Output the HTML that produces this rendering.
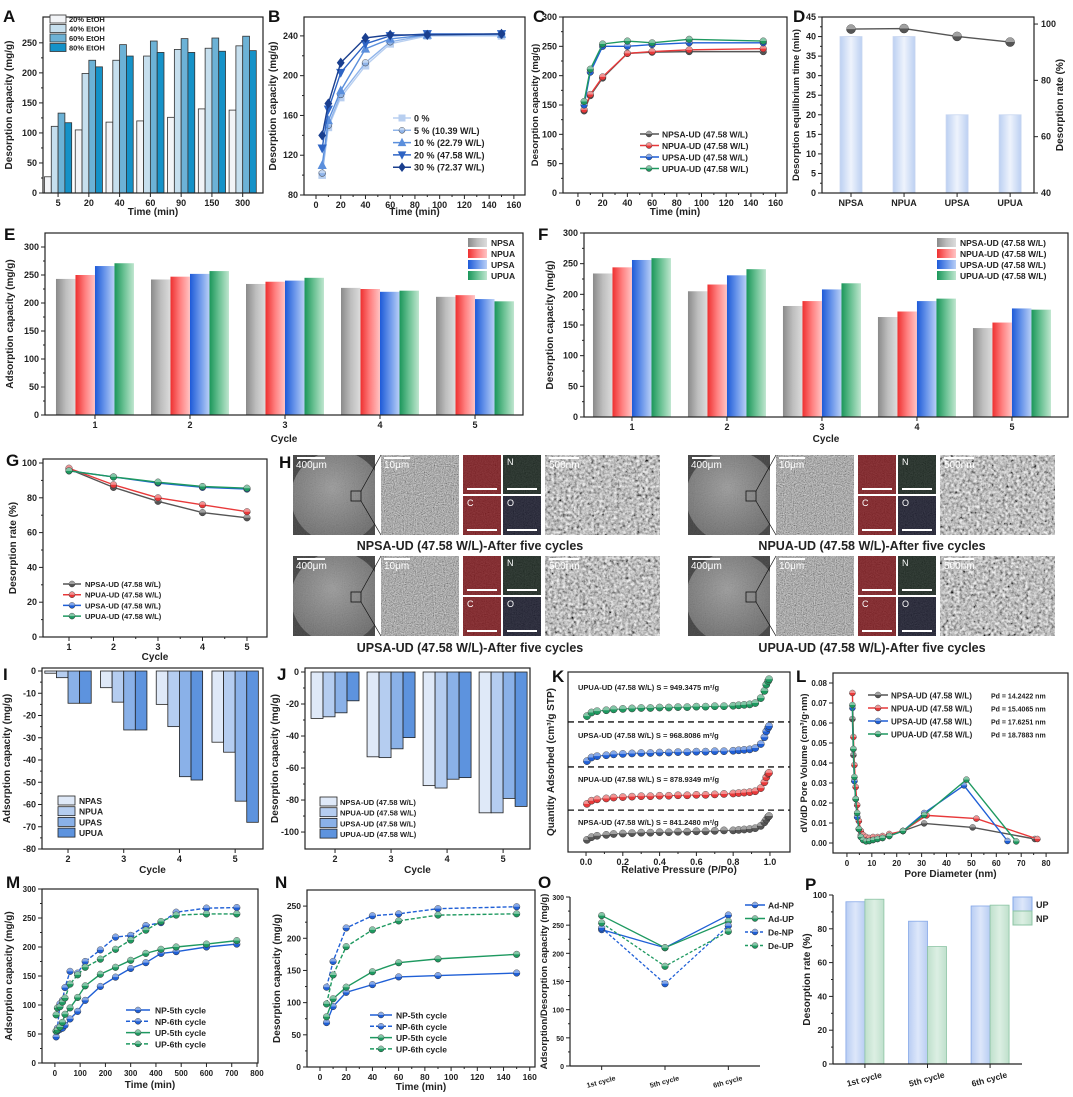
<!DOCTYPE html>
<html><head><meta charset="utf-8"><style>
html,body{margin:0;padding:0;background:#fff;}
svg{display:block;}
</style></head><body>
<svg id="fig" xmlns="http://www.w3.org/2000/svg" width="1073" height="1097" viewBox="0 0 1073 1097" font-family="Liberation Sans, Arial, sans-serif">
<defs>
<filter id="texFine" x="0" y="0" width="1" height="1"><feTurbulence type="fractalNoise" baseFrequency="0.9" numOctaves="2" seed="3"/><feColorMatrix type="matrix" values="0.7 0.7 0 0 -0.25 0.7 0.7 0 0 -0.25 0.7 0.7 0 0 -0.25 0 0 0 0 1"/></filter>
<filter id="texBig" x="0" y="0" width="1" height="1"><feTurbulence type="fractalNoise" baseFrequency="0.35" numOctaves="3" seed="7"/><feColorMatrix type="matrix" values="1.1 1.1 0 0 -0.55 1.1 1.1 0 0 -0.55 1.1 1.1 0 0 -0.55 0 0 0 0 1"/></filter>
<radialGradient id="disc" cx="0.45" cy="0.4" r="0.6"><stop offset="0" stop-color="#9a9a9a"/><stop offset="1" stop-color="#6a6a6a"/></radialGradient>
</defs>
</svg>
<script>
// ---------- DATA ----------
const aCats=['5','20','40','60','90','150','300'];
const aNames=['20% EtOH','40% EtOH','60% EtOH','80% EtOH'];
const aE20=[27,105,118,120,126,140,138];
const aE40=[111,199,221,228,239,241,245];
const aE60=[133,221,247,253,257,258,261];
const aE80=[117,210,228,234,234,236,237];
const bX=[5,10,20,40,60,90,150];
const bNames=['0 %','5 % (10.39 W/L)','10 % (22.79 W/L)','20 % (47.58 W/L)','30 % (72.37 W/L)'];
const b0=[100,148,178,210,232,240,240];
const b5=[102,150,181,213,234,241,241];
const b10=[110,155,185,227,237,241,242];
const b20=[127,166,203,232,240,242,242];
const b30=[140,172,213,238,241,241,242];
const cX=[5,10,20,40,60,90,150];
const sNames=['NPSA-UD (47.58 W/L)','NPUA-UD (47.58 W/L)','UPSA-UD (47.58 W/L)','UPUA-UD (47.58 W/L)'];
const cNPSA=[140,166,196,238,240,241,241];
const cNPUA=[142,168,198,238,241,244,246];
const cUPSA=[150,206,250,250,253,256,256];
const cUPUA=[156,211,254,259,256,262,259];
const dCats=['NPSA','NPUA','UPSA','UPUA'];
const dTime=[40,40,20,20];
const dRate=[98.2,98.4,95.6,93.6];
const eCycles=[1,2,3,4,5];
const eCats=['1','2','3','4','5'];
const eNames=['NPSA','NPUA','UPSA','UPUA'];
const eNPSA=[243,242,234,227,211];
const eNPUA=[250,247,238,225,214];
const eUPSA=[266,252,240,220,207];
const eUPUA=[271,257,245,222,203];
const fNPSA=[234,205,181,163,145];
const fNPUA=[244,216,189,172,154];
const fUPSA=[256,231,208,189,177];
const fUPUA=[259,241,218,193,175];
const gX=[1,2,3,4,5];
const gNPSA=[96.5,86,78,71.5,68.5];
const gNPUA=[97,87.5,80,76,72];
const gUPSA=[95.5,92,88.5,86,85];
const gUPUA=[95.5,92,89,86.5,85.5];
const iCats=['2','3','4','5'];
const iNames=['NPAS','NPUA','UPAS','UPUA'];
const iNPAS=[-1,-7.5,-15,-32];
const iNPUA=[-3,-14,-25,-36.5];
const iUPAS=[-14.5,-26.5,-47.5,-58.5];
const iUPUA=[-14.5,-26.5,-49,-68];
const jNPSA=[-29,-53,-71,-88];
const jNPUA=[-28,-53.5,-72.5,-88];
const jUPSA=[-25.5,-48,-67,-79];
const jUPUA=[-18,-41,-66,-84];
const kX=[0.005,0.03,0.06,0.11,0.15,0.2,0.25,0.3,0.35,0.4,0.45,0.5,0.55,0.6,0.65,0.7,0.75,0.8,0.83,0.86,0.89,0.92,0.95,0.97,0.98,0.99,0.995];
const kLabels=['NPSA-UD (47.58 W/L) S = 841.2480 m²/g','NPUA-UD (47.58 W/L) S = 878.9349 m²/g','UPSA-UD (47.58 W/L) S = 968.8086 m²/g','UPUA-UD (47.58 W/L) S = 949.3475 m²/g'];
const kNPSA=[0.27,0.33,0.36,0.38,0.40,0.41,0.42,0.43,0.43,0.44,0.44,0.45,0.45,0.46,0.46,0.47,0.48,0.48,0.49,0.50,0.51,0.53,0.58,0.66,0.72,0.78,0.80];
const kNPUA=[1.07,1.14,1.17,1.19,1.21,1.22,1.23,1.24,1.24,1.25,1.25,1.26,1.26,1.27,1.27,1.28,1.29,1.30,1.31,1.32,1.33,1.35,1.42,1.55,1.66,1.74,1.76];
const kUPSA=[2.02,2.10,2.13,2.15,2.17,2.18,2.19,2.20,2.20,2.21,2.21,2.22,2.22,2.23,2.23,2.24,2.24,2.25,2.26,2.27,2.28,2.31,2.40,2.55,2.68,2.76,2.80];
const kUPUA=[3.02,3.10,3.13,3.15,3.17,3.18,3.19,3.20,3.20,3.21,3.21,3.22,3.22,3.23,3.23,3.24,3.24,3.25,3.26,3.27,3.28,3.31,3.42,3.58,3.72,3.80,3.84];
const lPd=['Pd = 14.2422 nm','Pd = 15.4065 nm','Pd = 17.6251 nm','Pd = 18.7883 nm'];
const lX1=[2.2,2.6,3.0,3.5,4.1,4.8,5.6,6.5,7.7,9,10.5,12.3,14.3,17,22.5,31,50.5,75.5];
const lNPSA=[0.062,0.044,0.031,0.022,0.013,0.007,0.004,0.002,0.0015,0.0015,0.002,0.0025,0.003,0.004,0.006,0.0098,0.0078,0.002];
const lX2=[2.2,2.6,3.0,3.5,4.1,4.8,5.6,6.5,7.7,9,10.5,12.3,14.3,17,22.5,32,52,76.5];
const lNPUA=[0.075,0.053,0.039,0.028,0.019,0.011,0.006,0.004,0.003,0.0025,0.003,0.003,0.0035,0.0045,0.006,0.0138,0.0122,0.002];
const lX3=[2.2,2.6,3.0,3.5,4.1,4.8,5.6,6.5,7.7,9,10.5,12.3,14.3,17,22.5,31,47,64.5];
const lUPSA=[0.0675,0.047,0.031,0.022,0.013,0.007,0.003,0.0015,0.001,0.001,0.0015,0.002,0.0025,0.0035,0.006,0.015,0.0288,0.001];
const lX4=[2.2,2.6,3.0,3.5,4.1,4.8,5.6,6.5,7.7,9,10.5,12.3,14.3,17,22.5,31,48,68];
const lUPUA=[0.069,0.047,0.033,0.022,0.015,0.007,0.003,0.0015,0.0008,0.001,0.0015,0.002,0.0025,0.0035,0.006,0.014,0.0317,0.0008];
const mX=[5,10,20,30,40,60,90,120,180,240,300,360,420,480,600,720];
const mNames=['NP-5th cycle','NP-6th cycle','UP-5th cycle','UP-6th cycle'];
const mNP5=[45,55,58,60,65,76,89,108,132,148,163,173,189,192,200,205];
const mNP6=[55,60,102,108,130,158,155,175,195,217,220,237,242,260,267,268];
const mUP5=[55,57,62,70,84,95,113,133,153,165,177,189,196,200,205,211];
const mUP6=[83,95,97,105,112,136,152,165,179,196,212,229,244,255,257,257];
const nX=[5,10,20,40,60,90,150];
const nNP5=[69,94,116,128,140,142,146];
const nNP6=[124,164,216,235,238,246,249];
const nUP5=[78,106,124,148,162,168,175];
const nUP6=[98,143,187,213,227,236,238];
const oCats=['1st cycle','5th cycle','6th cycle'];
const oNames=['Ad-NP','Ad-UP','De-NP','De-UP'];
const oAdNP=[242,210,268];
const oAdUP=[267,210,257];
const oDeNP=[245,146,249];
const oDeUP=[254,177,239];
const pUP=[96,84.5,93.5];
const pNP=[97.5,69.5,94];

// ---------- HELPERS ----------
const NS='http://www.w3.org/2000/svg';
const root=document.getElementById('fig');
const defs=root.querySelector('defs');
function add(tag,attrs,name,parent){
  const e=document.createElementNS(NS,tag);
  for(const k in attrs)e.setAttribute(k,attrs[k]);
  
  
  (parent||root).appendChild(e);return e;
}
function txt(x,y,s,o,name){
  o=o||{};
  const e=add('text',{x:x,y:y,'font-size':o.size||9,'font-weight':o.w||'bold','text-anchor':o.a||'middle',fill:o.fill||'#222'},name||'label');
  if(o.rot!=null)e.setAttribute('transform','rotate('+o.rot+' '+x+' '+y+')');
  e.textContent=s;return e;
}
function P(c){
  c.sx=v=>c.x0+(v-c.xd[0])/(c.xd[1]-c.xd[0])*(c.x1-c.x0);
  c.sy=v=>c.y1-(v-c.yd[0])/(c.yd[1]-c.yd[0])*(c.y1-c.y0);
  return c;
}
function axes(p,o){
  const g=add('g',{},o.name+'-axes');
  if(o.box!==false){
    add('rect',{x:p.x0,y:p.y0,width:p.x1-p.x0,height:p.y1-p.y0,fill:'none',stroke:'#222','stroke-width':1.2},o.name+'-frame',g);
  }else{
    add('line',{x1:p.x0,y1:p.y0,x2:p.x0,y2:p.y1,stroke:'#222','stroke-width':1.2},o.name+'-y-axis-line',g);
    add('line',{x1:p.x0,y1:p.y1,x2:p.x1,y2:p.y1,stroke:'#222','stroke-width':1.2},o.name+'-x-axis-line',g);
  }
  const fs=o.fs||9;
  (o.yt||[]).forEach((v,i)=>{
    const y=p.sy(v);
    add('line',{x1:p.x0-4,y1:y,x2:p.x0,y2:y,stroke:'#222'},o.name+'-y-tick',g);
    if(o.yl!==null)txt(p.x0-6,y+3,o.yl?o.yl[i]:String(v),{a:'end',size:fs},o.name+'-y-tick-label');
    if(o.ym&&i<o.yt.length-1){const ym=p.sy((v+o.yt[i+1])/2);add('line',{x1:p.x0-2,y1:ym,x2:p.x0,y2:ym,stroke:'#222'},o.name+'-y-minor-tick',g);}
  });
  (o.xt||[]).forEach((v,i)=>{
    const x=p.sx(v);
    add('line',{x1:x,y1:p.y1,x2:x,y2:p.y1+4,stroke:'#222'},o.name+'-x-tick',g);
    const lab=o.xl?o.xl[i]:String(v);
    if(o.xrot!=null)txt(x,p.y1+18,lab,{size:fs,rot:o.xrot},o.name+'-x-tick-label');
    else txt(x,p.y1+13,lab,{size:fs},o.name+'-x-tick-label');
    if(o.xm&&i<o.xt.length-1){const xm=p.sx((v+o.xt[i+1])/2);add('line',{x1:xm,y1:p.y1,x2:xm,y2:p.y1+2,stroke:'#222'},o.name+'-x-minor-tick',g);}
  });
  if(o.xtitle)txt((p.x0+p.x1)/2,o.xty,o.xtitle,{size:10},o.name+'-x-axis-title');
  if(o.ytitle)txt(o.ytx,(p.y0+p.y1)/2,o.ytitle,{size:o.yts||10,rot:-90},o.name+'-y-axis-title');
}
function marker(x,y,type,color,name,r){
  r=r||3.3;let e;
  if(type==='sq')e=add('rect',{x:x-r,y:y-r,width:2*r,height:2*r,fill:color,stroke:color},name);
  else if(type==='tu')e=add('polygon',{points:(x)+','+(y-r-0.8)+' '+(x-r-0.5)+','+(y+r)+' '+(x+r+0.5)+','+(y+r),fill:color,stroke:color},name);
  else if(type==='td')e=add('polygon',{points:(x)+','+(y+r+0.8)+' '+(x-r-0.5)+','+(y-r)+' '+(x+r+0.5)+','+(y-r),fill:color,stroke:color},name);
  else if(type==='di')e=add('polygon',{points:x+','+(y-r-1)+' '+(x+r)+','+y+' '+x+','+(y+r+1)+' '+(x-r)+','+y,fill:color,stroke:color},name);
  else {e=add('circle',{cx:x,cy:y,r:r,fill:color,stroke:'#333','stroke-width':0.5},name);
        add('path',{d:'M'+(x-r)+' '+y+' A'+r+' '+r+' 0 0 1 '+(x+r)+' '+y+' Z',fill:'rgba(255,255,255,0.45)'},name+'-highlight');}
  return e;
}
function series(p,xs,ys,color,o,name){
  o=o||{};
  const pts=xs.map((x,i)=>p.sx(x)+','+p.sy(ys[i])).join(' ');
  add('polyline',{points:pts,fill:'none',stroke:color,'stroke-width':o.w||1.4,'stroke-dasharray':o.dash||'none'},name+'-line');
  if(o.m!=='none')xs.forEach((x,i)=>marker(p.sx(x),p.sy(ys[i]),o.m||'ci',color,name+'-point',o.r));
}
function grad(id,c1,c2,c3){
  const g=document.createElementNS(NS,'linearGradient');g.setAttribute('id',id);g.setAttribute('x1','0');g.setAttribute('x2','1');g.setAttribute('y1','0');g.setAttribute('y2','0');
  [[0,c1],[0.5,c2],[1,c3]].forEach(s=>{const st=document.createElementNS(NS,'stop');st.setAttribute('offset',s[0]);st.setAttribute('stop-color',s[1]);g.appendChild(st);});
  defs.appendChild(g);return 'url(#'+id+')';
}
function bars(p,xs,vals,fill,stroke,off,w,name,base){
  base=base||0;
  vals.forEach((v,i)=>{
    const x=p.sx(xs[i])+off;const y0=p.sy(base),y1=p.sy(v);
    add('rect',{x:x-w/2,y:Math.min(y0,y1),width:w,height:Math.abs(y1-y0),fill:fill,stroke:stroke,'stroke-width':stroke==='none'?0:0.8},name);
  });
}
function letter(x,y,s){txt(x,y,s,{size:17,a:'start',fill:'#111'},'panel-label-'+s.toLowerCase());}
function range(a,b,s){const r=[];for(let v=a;v<=b+1e-9;v+=s)r.push(Math.round(v*1000)/1000);return r;}
const idx7=[0,1,2,3,4,5,6], idx4=[0,1,2,3], idx3=[0,1,2];

// ---------- PANEL A ----------
letter(3,22,'A');
const pA=P({x0:43,x1:263,y0:17,y1:193,xd:[-0.49,6.66],yd:[0,293]});
const aFill=['#f2f4f7','#c6dfee','#6cb2d6','#1592c8'];
[aE20,aE40,aE60,aE80].forEach((s,k)=>bars(pA,idx7,s,aFill[k],'#333',(k-1.5)*6.8,6.8,'a-bar-'+k));
axes(pA,{name:'a',yt:range(0,250,50),ym:true,xt:idx7,xl:aCats,xtitle:'Time (min)',xty:215,ytitle:'Desorption capacity (mg/g)',ytx:12});
aNames.forEach((n,k)=>{add('rect',{x:50,y:15+k*9.5,width:16,height:8,fill:aFill[k],stroke:'#333','stroke-width':0.8},'a-legend-swatch');txt(69,22+k*9.5,n,{a:'start',size:7.5},'a-legend-label');});

// ---------- PANEL B ----------
letter(268,22,'B');
const pB=P({x0:304,x1:525,y0:17,y1:195,xd:[-9.7,169],yd:[80,259]});
axes(pB,{name:'b',yt:range(80,240,40),ym:true,xt:range(0,160,20),xm:true,xtitle:'Time (min)',xty:215,ytitle:'Desorption capacity (mg/g)',ytx:276});
const bCol=['#b8cff0','#8fb4ea','#5b8fdc','#2e64c4','#1a3f8f'];
const bM=['sq','ci','tu','td','di'];
[b0,b5,b10,b20,b30].forEach((s,k)=>series(pB,bX,s,bCol[k],{m:bM[k]},'b-series-'+k));
bNames.forEach((n,k)=>{const y=118+k*12.3;add('line',{x1:393,y1:y,x2:411,y2:y,stroke:bCol[k],'stroke-width':1.5},'b-legend-line');marker(402,y,bM[k],bCol[k],'b-legend-marker',3);txt(414,y+3.5,n,{a:'start',size:9},'b-legend-label');});

// ---------- PANEL C ----------
letter(533,22,'C');
const pC=P({x0:563,x1:787,y0:17,y1:193,xd:[-12.1,169.2],yd:[0,300]});
axes(pC,{name:'c',yt:range(0,300,50),ym:true,xt:range(0,160,20),xm:true,xtitle:'Time (min)',xty:215,ytitle:'Desorption capacity (mg/g)',ytx:538,yts:9.5});
const sCol=['#555555','#e8393a','#1f5fd6','#1e9960'];
[cNPSA,cNPUA,cUPSA,cUPUA].forEach((s,k)=>series(pC,cX,s,sCol[k],{},'c-series-'+k));
sNames.forEach((n,k)=>{const y=134+k*11.5;add('line',{x1:640,y1:y,x2:659,y2:y,stroke:sCol[k],'stroke-width':1.5},'c-legend-line');marker(649,y,'ci',sCol[k],'c-legend-marker',3);txt(662,y+3.5,n,{a:'start',size:8.5},'c-legend-label');});

// ---------- PANEL D ----------
letter(793,22,'D');
const pD=P({x0:822,x1:1034,y0:17,y1:193,xd:[-0.547,3.45],yd:[0,45]});
const dG=grad('dgrad','#bcd0f2','#eef3fc','#bcd0f2');
bars(pD,idx4,dTime,dG,'#c8d6f0',0,22,'d-bar');
axes(pD,{name:'d',yt:range(0,45,5),ym:true,xt:idx4,xl:dCats,ytitle:'Desorption equilibrium time (min)',ytx:799,yts:9.5});
const pD2=P({x0:822,x1:1034,y0:17,y1:193,xd:[-0.547,3.45],yd:[40,102.5]});
range(40,100,20).forEach(v=>{const y=pD2.sy(v);add('line',{x1:1034,y1:y,x2:1038,y2:y,stroke:'#222'},'d-right-tick');txt(1041,y+3,String(v),{a:'start',size:9},'d-right-tick-label');});
txt(1063,105,'Desorption rate (%)',{size:10,rot:-90},'d-right-axis-title');
series(pD2,idx4,dRate,'#555',{r:4.5},'d-rate');

// ---------- PANEL E ----------
letter(4,240,'E');
const pE=P({x0:45,x1:523,y0:233,y1:415,xd:[0.474,5.505],yd:[0,325]});
const eCol=[['#8a8a8a','#bdbdbd','#dcdcdc'],['#ee3030','#ff8080','#ffc4c4'],['#1d5ad8','#6a96ea','#b9cff6'],['#1a965a','#6cc295','#bfe6cf']];
const eG=eCol.map((c,k)=>grad('eg'+k,c[0],c[1],c[2]));
[eNPSA,eNPUA,eUPSA,eUPUA].forEach((s,k)=>bars(pE,eCycles,s,eG[k],'none',(k-1.5)*19.5,19.5,'e-bar-'+k,0));
axes(pE,{name:'e',yt:range(0,300,50),ym:true,xt:eCycles,xl:eCats,xtitle:'Cycle',xty:442,ytitle:'Adsorption capacity (mg/g)',ytx:13});
eNames.forEach((n,k)=>{add('rect',{x:468,y:238+k*11,width:19,height:9,fill:eG[k]},'e-legend-swatch');txt(491,246+k*11,n,{a:'start',size:8.5},'e-legend-label');});

// ---------- PANEL F ----------
letter(538,240,'F');
const pF=P({x0:584,x1:1068,y0:233,y1:417,xd:[0.495,5.59],yd:[0,300]});
[fNPSA,fNPUA,fUPSA,fUPUA].forEach((s,k)=>bars(pF,eCycles,s,eG[k],'none',(k-1.5)*19.5,19.5,'f-bar-'+k,0));
axes(pF,{name:'f',yt:range(0,300,50),ym:true,xt:eCycles,xl:eCats,xtitle:'Cycle',xty:442,ytitle:'Desorption capacity (mg/g)',ytx:553});
sNames.forEach((n,k)=>{add('rect',{x:937,y:238+k*11,width:19,height:9,fill:eG[k]},'f-legend-swatch');txt(960,246+k*11,n,{a:'start',size:8.5},'f-legend-label');});

// ---------- PANEL G ----------
letter(6,466,'G');
const pG=P({x0:43,x1:267,y0:459,y1:637,xd:[0.416,5.45],yd:[0,102.3]});
axes(pG,{name:'g',yt:range(0,100,20),ym:true,xt:gX,xm:true,xtitle:'Cycle',xty:660,ytitle:'Desorption rate (%)',ytx:16});
[gNPSA,gNPUA,gUPSA,gUPUA].forEach((s,k)=>series(pG,gX,s,sCol[k],{},'g-series-'+k));
sNames.forEach((n,k)=>{const y=584+k*10.7;add('line',{x1:63,y1:y,x2:81,y2:y,stroke:sCol[k],'stroke-width':1.5},'g-legend-line');marker(72,y,'ci',sCol[k],'g-legend-marker',3);txt(85,y+3,n,{a:'start',size:7.5},'g-legend-label');});

// ---------- PANEL H (SEM) ----------
letter(279,468,'H');
let clipN=0;
function semBlock(x,y,cap,capX,capY){
  const h=80;
  clipN++;
  const cp=document.createElementNS(NS,'clipPath');cp.setAttribute('id','cp'+clipN);
  const cr=document.createElementNS(NS,'rect');cr.setAttribute('x',x);cr.setAttribute('y',y);cr.setAttribute('width',82);cr.setAttribute('height',h);cp.appendChild(cr);defs.appendChild(cp);
  const g=add('g',{'clip-path':'url(#cp'+clipN+')'},'sem-overview-image');
  add('rect',{x:x,y:y,width:82,height:h,fill:'#3c3c3c'},'sem-background',g);
  add('circle',{cx:x+44,cy:y+42,r:46,fill:'url(#disc)'},'sem-disc',g);
  add('rect',{x:x,y:y,width:82,height:h,filter:'url(#texFine)',opacity:0.12},'sem-noise',g);
  add('rect',{x:x+4,y:y+2,width:28,height:2,fill:'#fff'},'sem-scale-bar');
  txt(x+3,y+13,'400μm',{a:'start',size:10,w:'normal',fill:'#fff'},'sem-scale-label');
  add('rect',{x:x+58,y:y+36,width:10,height:10,fill:'none',stroke:'#111','stroke-width':0.8},'sem-zoom-box');
  add('line',{x1:x+68,y1:y+36,x2:x+88,y2:y,stroke:'#111','stroke-width':0.7},'sem-zoom-line');
  add('line',{x1:x+68,y1:y+46,x2:x+88,y2:y+h,stroke:'#111','stroke-width':0.7},'sem-zoom-line');
  const zx=x+88;
  add('rect',{x:zx,y:y,width:78,height:h,fill:'#8a8a8a'},'sem-zoom-base');
  add('rect',{x:zx,y:y,width:78,height:h,filter:'url(#texFine)',opacity:0.8},'sem-zoom-image');
  add('rect',{x:zx+3,y:y+2,width:26,height:2,fill:'#fff'},'sem-scale-bar');
  txt(zx+3,y+13,'10μm',{a:'start',size:10,w:'normal',fill:'#fff'},'sem-scale-label');
  const ex=zx+82;
  const eds=[['#7a0f14',''],['#0d1a12','N'],['#7a0f14','C'],['#0e0f22','O']];
  eds.forEach((d,i)=>{const cx=ex+(i%2)*40,cy=y+(i>1?41:0);
    add('rect',{x:cx,y:cy,width:38,height:39,fill:d[0]},'eds-map');
    add('rect',{x:cx,y:cy,width:38,height:39,filter:'url(#texFine)',opacity:0.2},'eds-noise');
    add('rect',{x:cx+4,y:cy+33,width:30,height:2,fill:'#fff'},'eds-scale-bar');
    if(d[1])txt(cx+4,cy+10,d[1],{a:'start',size:9,w:'normal',fill:'#fff'},'eds-element-label');});
  const bx=ex+82;
  add('rect',{x:bx,y:y,width:115,height:h,fill:'#9a9a9a'},'sem-highres-base');
  add('rect',{x:bx,y:y,width:115,height:h,filter:'url(#texBig)',opacity:0.85},'sem-highres-image');
  add('rect',{x:bx+4,y:y+2,width:30,height:2,fill:'#fff'},'sem-scale-bar');
  txt(bx+4,y+13,'500nm',{a:'start',size:10,w:'normal',fill:'#fff'},'sem-scale-label');
  txt(capX,capY,cap,{size:12.5},'sem-caption');
}
semBlock(293,455,'NPSA-UD (47.58 W/L)-After five cycles',470,550);
semBlock(688,455,'NPUA-UD (47.58 W/L)-After five cycles',872,550);
semBlock(293,556,'UPSA-UD (47.58 W/L)-After five cycles',470,652);
semBlock(688,556,'UPUA-UD (47.58 W/L)-After five cycles',872,652);

// ---------- PANEL I ----------
letter(3,680,'I');
const pI=P({x0:42,x1:263,y0:668,y1:849,xd:[-0.467,3.5],yd:[-80,1.35]});
const iFill=['#dfe9f8','#b5cdf0','#8ab1e8','#5d93de'];
[iNPAS,iNPUA,iUPAS,iUPUA].forEach((s,k)=>bars(pI,idx4,s,iFill[k],'#222',(k-1.5)*11.6,11.6,'i-bar-'+k,0));
axes(pI,{name:'i',yt:range(-80,0,10),ym:true,xt:idx4,xl:iCats,xtitle:'Cycle',xty:873,ytitle:'Adsorption capacity (mg/g)',ytx:10});
iNames.forEach((n,k)=>{add('rect',{x:58,y:796+k*10.7,width:17,height:9,fill:iFill[k],stroke:'#222','stroke-width':0.8},'i-legend-swatch');txt(79,804+k*10.7,n,{a:'start',size:8.5},'i-legend-label');});

// ---------- PANEL J ----------
letter(277,680,'J');
const pJ=P({x0:305,x1:530,y0:668,y1:849,xd:[-0.536,3.48],yd:[-110.6,2.5]});
[jNPSA,jNPUA,jUPSA,jUPUA].forEach((s,k)=>bars(pJ,idx4,s,iFill[k],'#222',(k-1.5)*12,12,'j-bar-'+k,0));
axes(pJ,{name:'j',yt:range(-100,0,20),ym:true,xt:idx4,xl:iCats,xtitle:'Cycle',xty:873,ytitle:'Desorption capacity (mg/g)',ytx:278});
sNames.forEach((n,k)=>{add('rect',{x:320,y:797+k*10.7,width:17,height:9,fill:iFill[k],stroke:'#222','stroke-width':0.8},'j-legend-swatch');txt(340,805+k*10.7,n,{a:'start',size:7.5},'j-legend-label');});

// ---------- PANEL K ----------
letter(552,682,'K');
const pK=P({x0:568,x1:790,y0:672,y1:852,xd:[-0.098,1.109],yd:[0,4]});
axes(pK,{name:'k',xt:range(0,1,0.2),xl:['0.0','0.2','0.4','0.6','0.8','1.0'],xm:true,xtitle:'Relative Pressure (P/Po)',xty:873,ytitle:'Quantity Adsorbed (cm³/g STP)',ytx:554});
[0.93,1.89,2.89].forEach(v=>add('line',{x1:568,y1:pK.sy(v),x2:790,y2:pK.sy(v),stroke:'#111','stroke-width':1.3,'stroke-dasharray':'6,4'},'k-separator'));
[kNPSA,kNPUA,kUPSA,kUPUA].forEach((s,k)=>series(pK,kX,s,sCol[k],{r:3.6,w:1},'k-series-'+k));
const kLy=[825,782,738,690];
kLabels.forEach((n,k)=>txt(578,kLy[k],n,{a:'start',size:7.5},'k-series-label'));

// ---------- PANEL L ----------
letter(796,682,'L');
const pL=P({x0:833,x1:1068,y0:673,y1:853,xd:[-5.6,88.8],yd:[-0.005,0.085]});
axes(pL,{name:'l',yt:range(0,0.08,0.01),yl:['0.00','0.01','0.02','0.03','0.04','0.05','0.06','0.07','0.08'],xt:range(0,80,10),xm:true,fs:8,xtitle:'Pore Diameter (nm)',xty:877,ytitle:'dV/dD Pore Volume (cm³/g·nm)',ytx:807,yts:9.5});
[[lX1,lNPSA],[lX2,lNPUA],[lX3,lUPSA],[lX4,lUPUA]].forEach((d,k)=>series(pL,d[0],d[1],sCol[k],{r:3},'l-series-'+k));
sNames.forEach((n,k)=>{const y=695+k*13;add('line',{x1:868,y1:y,x2:888,y2:y,stroke:sCol[k],'stroke-width':1.5},'l-legend-line');marker(878,y,'ci',sCol[k],'l-legend-marker',3);txt(891,y+3.5,n,{a:'start',size:8},'l-legend-label');txt(991,y+3.5,lPd[k],{a:'start',size:7},'l-legend-pd');});

// ---------- PANEL M ----------
letter(6,888,'M');
const pM=P({x0:42,x1:258,y0:889,y1:1063,xd:[-51,804],yd:[0,300]});
axes(pM,{name:'m',yt:range(0,300,50),ym:true,xt:range(0,800,100),fs:8,xtitle:'Time (min)',xty:1088,ytitle:'Adsorption capacity (mg/g)',ytx:12});
const mCol=['#1f5fd6','#1f5fd6','#1e9960','#1e9960'];
const mDash=['none','4,2','none','4,2'];
[mNP5,mNP6,mUP5,mUP6].forEach((s,k)=>series(pM,mX,s,mCol[k],{dash:mDash[k]},'m-series-'+k));
mNames.forEach((n,k)=>{const y=1010+k*11.3;add('line',{x1:126,y1:y,x2:150,y2:y,stroke:mCol[k],'stroke-width':1.5,'stroke-dasharray':mDash[k]},'m-legend-line');marker(138,y,'ci',mCol[k],'m-legend-marker',3);txt(155,y+3.5,n,{a:'start',size:8.5},'m-legend-label');});

// ---------- PANEL N ----------
letter(275,888,'N');
const pN=P({x0:307,x1:535,y0:890,y1:1067,xd:[-9.9,164],yd:[0,275]});
axes(pN,{name:'n',yt:range(0,250,50),ym:true,xt:range(0,160,20),xm:true,fs:8.5,xtitle:'Time (min)',xty:1090,ytitle:'Desorption capacity (mg/g)',ytx:280});
[nNP5,nNP6,nUP5,nUP6].forEach((s,k)=>series(pN,nX,s,mCol[k],{dash:mDash[k]},'n-series-'+k));
mNames.forEach((n,k)=>{const y=1015+k*11.3;add('line',{x1:370,y1:y,x2:392,y2:y,stroke:mCol[k],'stroke-width':1.5,'stroke-dasharray':mDash[k]},'n-legend-line');marker(381,y,'ci',mCol[k],'n-legend-marker',3);txt(396,y+3.5,n,{a:'start',size:8.5},'n-legend-label');});

// ---------- PANEL O ----------
letter(538,888,'O');
const pO=P({x0:570,x1:760,y0:897,y1:1066,xd:[-0.5,2.5],yd:[0,300]});
axes(pO,{name:'o',box:false,yt:range(0,300,50),ym:true,xt:idx3,xl:oCats,xrot:-15,fs:7,ytitle:'Adsorption/Desorption capacity (mg/g)',ytx:547,yts:9.5});
const oCol=['#1f5fd6','#1e9960','#1f5fd6','#1e9960'];
const oDash=['none','none','3,2','3,2'];
[oAdNP,oAdUP,oDeNP,oDeUP].forEach((s,k)=>series(pO,idx3,s,oCol[k],{dash:oDash[k],w:1.3},'o-series-'+k));
oNames.forEach((n,k)=>{const y=905+k*13.5;add('line',{x1:745,y1:y,x2:765,y2:y,stroke:oCol[k],'stroke-width':1.5,'stroke-dasharray':oDash[k]},'o-legend-line');marker(755,y,'ci',oCol[k],'o-legend-marker',3);txt(768,y+3.5,n,{a:'start',size:8.5},'o-legend-label');});

// ---------- PANEL P ----------
letter(805,890,'P');
const pP=P({x0:833,x1:1022,y0:895,y1:1064,xd:[-0.51,2.51],yd:[0,100]});
const upG=grad('pup','#b8cdf3','#dde7fa','#b8cdf3');
const npG=grad('pnp','#bfe0cc','#dcefe3','#bfe0cc');
bars(pP,idx3,pUP,upG,'#86a8e8',-9.5,19,'p-bar-up',0);
bars(pP,idx3,pNP,npG,'#8cc4a4',9.5,19,'p-bar-np',0);
axes(pP,{name:'p',box:false,yt:range(0,100,20),ym:true,xt:idx3,xl:oCats,xrot:-15,fs:8.5,ytitle:'Desorption rate (%)',ytx:810});
add('rect',{x:1013,y:897,width:19,height:14,fill:upG,stroke:'#86a8e8'},'p-legend-swatch-up');
add('rect',{x:1013,y:911,width:19,height:14,fill:npG,stroke:'#8cc4a4'},'p-legend-swatch-np');
txt(1036,908,'UP',{a:'start',size:9},'p-legend-label');
txt(1036,922,'NP',{a:'start',size:9},'p-legend-label');
</script>
</body></html>
